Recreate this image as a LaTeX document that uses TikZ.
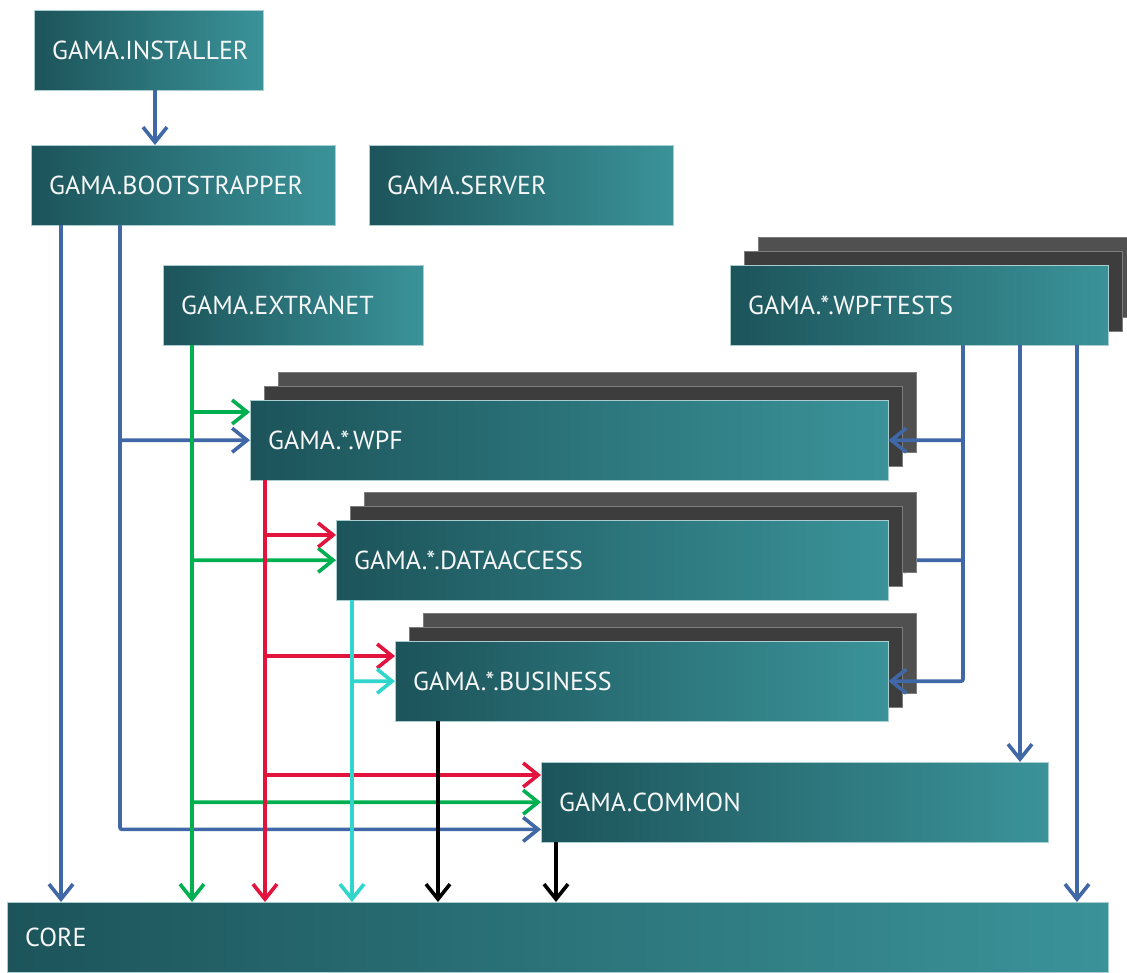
\documentclass[tikz,border=0pt]{standalone}
\usepackage{fontspec}
\setmainfont{PT Sans}
\usetikzlibrary{arrows.meta,calc}

\definecolor{tealdark}{RGB}{28,84,90}
\definecolor{teallight}{RGB}{58,147,153}
\definecolor{tealedge}{RGB}{170,205,208}
\definecolor{stackback}{RGB}{80,80,80}
\definecolor{stackmid}{RGB}{61,61,61}
\definecolor{stackedge}{RGB}{125,125,125}
\definecolor{depblue}{RGB}{64,104,166}
\definecolor{depgreen}{RGB}{0,176,80}
\definecolor{depred}{RGB}{226,20,62}
\definecolor{depcyan}{RGB}{48,214,204}

\pgfdeclarelayer{stacks}
\pgfsetlayers{stacks,main}

\tikzset{
  module/.style={left color=tealdark, right color=teallight, draw=tealedge,
    line width=0.4pt, minimum height=80pt, anchor=north west,
    inner xsep=18pt, inner ysep=0pt, text=white!94!gray, align=left,
    font=\fontsize{26}{28}\selectfont},
  backcopy/.style={fill=stackback, draw=stackedge, line width=0.4pt},
  midcopy/.style={fill=stackmid, draw=stackedge, line width=0.4pt},
  dep/.style={line width=3.6pt, rounded corners=2pt,
    -{Straight Barb[length=15pt,width=24pt,line join=miter]}},
}

% stacked copies behind a module box: one shifted 14pt, one 28pt up-right
\newcommand{\modstack}[1]{%
  \filldraw[backcopy] ($(#1.south west)+(28,28)$) rectangle ($(#1.north east)+(28,28)$);
  \filldraw[midcopy]  ($(#1.south west)+(14,14)$) rectangle ($(#1.north east)+(14,14)$);
}

\begin{document}
\begin{tikzpicture}[x=1pt,y=1pt]
\useasboundingbox (0,0) rectangle (1127,-972);

% modules
\node[module, minimum width=229pt, text width=193pt] (inst) at (34,-10)  {GAMA.INSTALLER};
\node[module, minimum width=304pt, text width=268pt] (boot) at (31,-145) {GAMA.BOOTSTRAPPER};
\node[module, minimum width=304pt, text width=268pt] (srv)  at (369,-145) {GAMA.SERVER};
\node[module, minimum width=260pt, text width=224pt] (ext)  at (163,-265) {GAMA.EXTRANET};
\node[module, minimum width=378pt, text width=342pt] (tests) at (730,-265) {GAMA.*.WPFTESTS};
\node[module, minimum width=638pt, text width=602pt] (wpf)  at (250,-400) {GAMA.*.WPF};
\node[module, minimum width=552pt, text width=516pt] (da)   at (336,-520) {GAMA.*.DATAACCESS};
\node[module, minimum width=493pt, text width=457pt] (biz)  at (395,-641) {GAMA.*.BUSINESS};
\node[module, minimum width=507pt, text width=471pt] (com)  at (541,-762) {GAMA.COMMON};
\node[module, minimum width=1101pt, text width=1065pt, minimum height=70pt] (core) at (7,-902) {CORE};

% trunk positions of the connectors
\coordinate (xi) at (155,0);
\coordinate (xb) at (61,0);
\coordinate (xc) at (120,0);
\coordinate (xg) at (192,0);
\coordinate (xr) at (265,0);
\coordinate (xq) at (352,0);
\coordinate (xk) at (438,0);
\coordinate (xm) at (556,0);
\coordinate (xt) at (963,0);
\coordinate (xu) at (1020,0);
\coordinate (xv) at (1077,0);

\begin{pgfonlayer}{stacks}
  \fill[white] (0,0) rectangle (1127,-972);
  % this one runs behind the stacked copies of DATAACCESS
  \draw[dep, depblue] (xt |- tests.south) |- (da.east);
  \modstack{tests}
  \modstack{wpf}
  \modstack{da}
  \modstack{biz}
\end{pgfonlayer}

% blue dependencies
\draw[dep, depblue] (xi |- inst.south) -- (xi |- boot.north);
\draw[dep, depblue] (xb |- boot.south) -- (xb |- core.north);
\draw[dep, depblue] (xc |- boot.south) |- ([yshift=13pt]com.south west);
\draw[dep, depblue] (xc |- boot.south) |- (wpf.west);
\draw[dep, depblue] (xt |- tests.south) |- (biz.east);
\draw[dep, depblue] (xt |- tests.south) |- (wpf.east);
\draw[dep, depblue] (xu |- tests.south) -- (xu |- com.north);
\draw[dep, depblue] (xv |- tests.south) -- (xv |- core.north);

% green dependencies
\draw[dep, depgreen] (xg |- ext.south) -- (xg |- core.north);
\draw[dep, depgreen] (xg |- ext.south) |- ([yshift=-12pt]wpf.north west);
\draw[dep, depgreen] (xg |- ext.south) |- (da.west);
\draw[dep, depgreen] (xg |- ext.south) |- (com.west);

% red dependencies
\draw[dep, depred] (xr |- wpf.south) -- (xr |- core.north);
\draw[dep, depred] (xr |- wpf.south) |- ([yshift=-15pt]da.north west);
\draw[dep, depred] (xr |- wpf.south) |- ([yshift=-15pt]biz.north west);
\draw[dep, depred] (xr |- wpf.south) |- ([yshift=-13pt]com.north west);

% cyan dependencies
\draw[dep, depcyan] (xq |- da.south) -- (xq |- core.north);
\draw[dep, depcyan] (xq |- da.south) |- (biz.west);

% black dependencies
\draw[dep, black] (xk |- biz.south) -- (xk |- core.north);
\draw[dep, black] (xm |- com.south) -- (xm |- core.north);
\end{tikzpicture}
\end{document}
